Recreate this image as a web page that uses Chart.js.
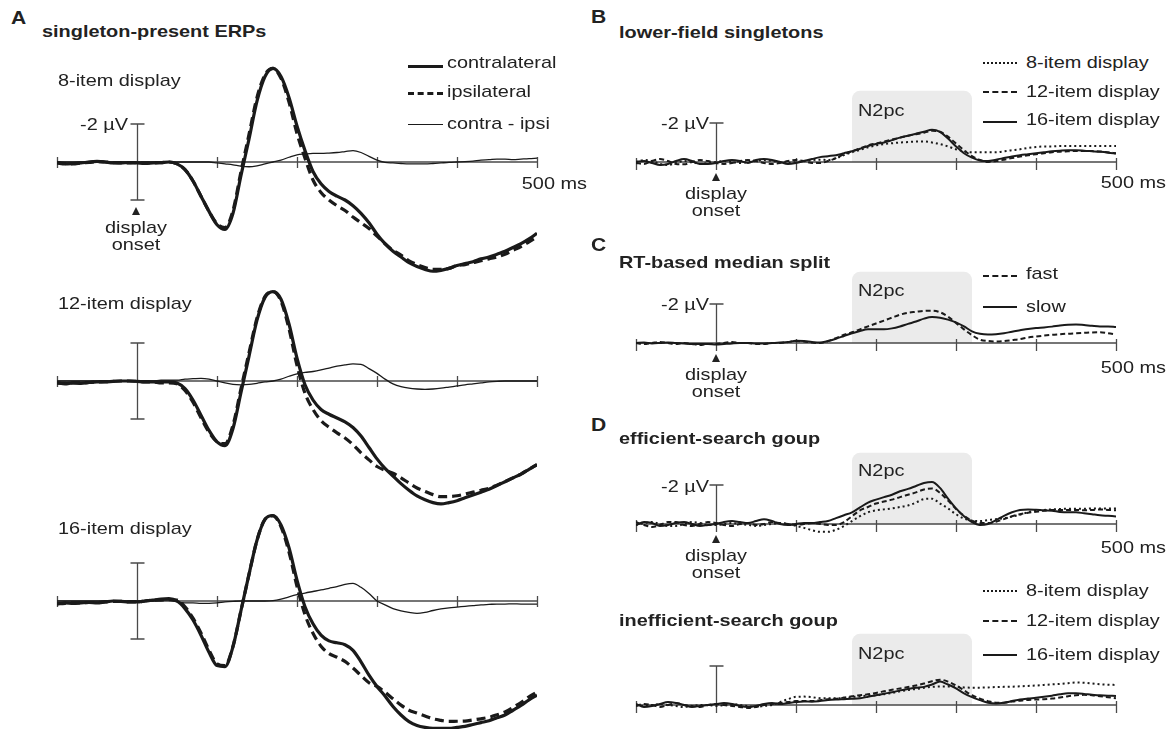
<!DOCTYPE html>
<html>
<head>
<meta charset="utf-8">
<script src="https://cdn.jsdelivr.net/npm/chart.js@4.4.1/dist/chart.umd.min.js"></script>
<style>
  html, body { margin: 0; padding: 0; background: #fff; }
  #fig { position: relative; width: 1169px; height: 729px; overflow: hidden; font-family: "Liberation Sans", Arial, sans-serif; color: #222; }
  #fig canvas { position: absolute; }
  .lbl { position: absolute; white-space: nowrap; font-size: 17px; line-height: 17px; }
  .bold { font-weight: bold; }
  .tri { position: absolute; width: 0; height: 0; border-left: 4px solid transparent; border-right: 4px solid transparent; border-bottom: 8px solid #222; }
</style>
</head>
<body>
<div id="fig"></div>
<script>
// time axis in ms (one sample every 10 ms)
const times = [-100, -90, -80, -70, -60, -50, -40, -30, -20, -10,
  0, 10, 20, 30, 40, 50, 60, 70, 80, 90,
  100, 110, 120, 130, 140, 150, 160, 170, 180, 190,
  200, 210, 220, 230, 240, 250, 260, 270, 280, 290,
  300, 310, 320, 330, 340, 350, 360, 370, 380, 390,
  400, 410, 420, 430, 440, 450, 460, 470, 480, 490, 500];
const tickTimes = [-100, 0, 100, 200, 300, 400, 500];
const n2pcWindow = [170, 320];   // ms
const n2pcTop = -3.65;           // µV, top of the shaded window

// ---- A: singleton-present ERPs (µV, negative up) ----
const a8Contra = [0.05, 0.1, 0.08, 0.05, 0.0, -0.03, 0.0, 0.05, 0.05, 0.03,
  0.05, 0.08, 0.05, 0.03, 0.0, 0.1, 0.4, 1.0, 1.8, 2.6,
  3.3, 3.55, 2.7, 0.7, -1.2, -3.2, -4.5, -4.93, -4.5, -3.4,
  -1.9, -0.6, 0.5, 1.15, 1.55, 1.8, 2.0, 2.3, 2.7, 3.2,
  3.8, 4.3, 4.7, 5.0, 5.3, 5.5, 5.65, 5.75, 5.7, 5.6,
  5.45, 5.35, 5.25, 5.1, 5.0, 4.85, 4.7, 4.5, 4.3, 4.05, 3.75];
const a8Ipsi = [0.03, 0.08, 0.1, 0.05, 0.02, -0.02, 0.0, 0.03, 0.05, 0.05,
  0.03, 0.05, 0.05, 0.03, 0.0, 0.1, 0.4, 1.0, 1.8, 2.6,
  3.25, 3.45, 2.55, 0.5, -1.45, -3.4, -4.6, -4.93, -4.4, -3.15,
  -1.5, -0.2, 0.95, 1.6, 2.0, 2.3, 2.55, 2.9, 3.2, 3.5,
  3.9, 4.3, 4.65, 4.9, 5.2, 5.4, 5.55, 5.65, 5.65, 5.6,
  5.45, 5.4, 5.3, 5.2, 5.1, 5.0, 4.85, 4.65, 4.45, 4.2, 3.95];
const a8Diff = [0, 0, 0, 0, 0, 0, 0, 0, 0, 0,
  0, 0, 0, 0, 0, 0, 0, 0, 0, 0,
  0.05, 0.1, 0.15, 0.22, 0.25, 0.2, 0.1, 0.0, -0.1, -0.25,
  -0.38, -0.42, -0.45, -0.45, -0.47, -0.5, -0.55, -0.6, -0.5, -0.3,
  -0.1, 0.02, 0.05, 0.08, 0.1, 0.1, 0.1, 0.08, 0.05, 0.02,
  0.0, -0.02, -0.05, -0.1, -0.12, -0.15, -0.15, -0.12, -0.15, -0.18, -0.2];

const a12Contra = [0.1, 0.15, 0.1, 0.12, 0.08, 0.05, 0.05, 0.02, 0.0, 0.0,
  0.02, 0.05, 0.05, 0.05, 0.05, 0.1, 0.4, 1.0, 1.8, 2.6,
  3.2, 3.4, 2.5, 0.6, -1.3, -3.2, -4.4, -4.7, -4.3, -3.0,
  -1.2, 0.2, 1.0, 1.5, 1.75, 1.95, 2.15, 2.45, 2.9, 3.5,
  4.1, 4.6, 5.0, 5.4, 5.75, 6.05, 6.25, 6.4, 6.47, 6.4,
  6.3, 6.15, 6.0, 5.85, 5.7, 5.5, 5.3, 5.1, 4.9, 4.65, 4.4];
const a12Ipsi = [0.1, 0.13, 0.1, 0.1, 0.08, 0.05, 0.04, 0.02, 0.0, 0.0,
  0.02, 0.05, 0.05, 0.1, 0.1, 0.15, 0.5, 1.12, 1.94, 2.7,
  3.2, 3.3, 2.32, 0.4, -1.48, -3.32, -4.45, -4.7, -4.2, -2.75,
  -0.82, 0.65, 1.5, 2.08, 2.43, 2.73, 3.0, 3.35, 3.78, 4.15,
  4.5, 4.7, 4.85, 5.1, 5.37, 5.63, 5.81, 5.98, 6.09, 6.08,
  6.04, 5.95, 5.85, 5.75, 5.65, 5.48, 5.3, 5.1, 4.9, 4.65, 4.4];
const a12Diff = [0, 0, 0, 0, 0, 0, 0, 0, 0, 0,
  0, 0, 0, -0.05, -0.05, -0.05, -0.1, -0.12, -0.14, -0.1,
  0.0, 0.1, 0.18, 0.2, 0.18, 0.12, 0.05, 0.0, -0.1, -0.25,
  -0.38, -0.45, -0.5, -0.58, -0.68, -0.78, -0.85, -0.9, -0.88, -0.65,
  -0.4, -0.1, 0.15, 0.3, 0.38, 0.42, 0.44, 0.42, 0.38, 0.32,
  0.26, 0.2, 0.15, 0.1, 0.05, 0.02, 0.0, 0.0, 0.0, 0.0, 0.0];

const a16Contra = [0.15, 0.1, 0.12, 0.1, 0.08, 0.1, 0.05, 0.0, 0.02, 0.05,
  0.05, 0.0, -0.05, -0.1, -0.12, 0.0, 0.4, 1.0, 1.8, 2.7,
  3.4, 3.45, 2.4, 0.5, -1.4, -3.2, -4.3, -4.5, -4.0, -2.8,
  -1.1, 0.3, 1.2, 1.8, 2.1, 2.2, 2.3, 2.6, 3.2, 3.9,
  4.5, 5.0, 5.55, 6.0, 6.35, 6.55, 6.65, 6.7, 6.7, 6.7,
  6.65, 6.6, 6.5, 6.4, 6.3, 6.15, 6.0, 5.75, 5.5, 5.2, 4.95];
const a16Ipsi = [0.15, 0.12, 0.1, 0.1, 0.08, 0.08, 0.05, 0.02, 0.02, 0.05,
  0.05, 0.0, -0.05, -0.05, -0.07, -0.05, 0.3, 0.9, 1.68, 2.58,
  3.3, 3.4, 2.38, 0.5, -1.4, -3.2, -4.3, -4.48, -3.9, -2.58,
  -0.77, 0.72, 1.7, 2.38, 2.77, 2.96, 3.18, 3.53, 3.92, 4.3,
  4.5, 4.8, 5.15, 5.48, 5.75, 5.9, 6.05, 6.2, 6.28, 6.34,
  6.33, 6.32, 6.26, 6.2, 6.12, 5.99, 5.84, 5.6, 5.34, 5.04, 4.79];
const a16Diff = [0, 0, 0, 0, 0, 0, 0, 0, 0, 0,
  0, 0, 0, -0.05, -0.05, 0.05, 0.1, 0.1, 0.12, 0.12,
  0.1, 0.05, 0.02, 0.0, 0.0, 0.0, 0.0, -0.02, -0.1, -0.22,
  -0.33, -0.42, -0.5, -0.58, -0.67, -0.76, -0.88, -0.93, -0.72, -0.4,
  0.0, 0.2, 0.4, 0.52, 0.6, 0.65, 0.6, 0.5, 0.42, 0.36,
  0.32, 0.28, 0.24, 0.2, 0.18, 0.16, 0.16, 0.15, 0.16, 0.16, 0.16];

// ---- B: lower-field singletons (contra - ipsi, µV) ----
const b8 = [0.0, -0.1, -0.05, 0.1, 0.15, 0.05, -0.05, 0.0, 0.1, 0.05,
  0.0, -0.05, 0.0, 0.05, 0.0, -0.05, -0.1, -0.05, 0.0, 0.05,
  0.0, -0.05, -0.1, -0.12, -0.1, -0.2, -0.35, -0.5, -0.62, -0.75,
  -0.85, -0.92, -0.96, -1.0, -1.02, -1.05, -1.05, -1.0, -0.92, -0.8,
  -0.65, -0.55, -0.5, -0.5, -0.5, -0.5, -0.55, -0.6, -0.65, -0.72,
  -0.77, -0.8, -0.8, -0.82, -0.82, -0.82, -0.82, -0.82, -0.82, -0.82, -0.82];
const b12 = [0.05, 0.1, -0.05, -0.15, -0.05, 0.1, 0.12, 0.0, -0.1, -0.05,
  0.05, 0.1, 0.05, -0.05, -0.1, -0.05, 0.05, 0.1, 0.05, -0.05,
  -0.1, -0.05, 0.05, 0.05, -0.05, -0.2, -0.4, -0.55, -0.7, -0.85,
  -0.95, -1.05, -1.15, -1.25, -1.35, -1.42, -1.5, -1.6, -1.55, -1.3,
  -0.95, -0.6, -0.3, -0.1, 0.0, -0.05, -0.12, -0.2, -0.28, -0.35,
  -0.4, -0.45, -0.5, -0.53, -0.55, -0.57, -0.57, -0.56, -0.54, -0.5, -0.45];
const b16 = [0.0, -0.05, 0.05, 0.15, 0.1, -0.05, -0.15, -0.05, 0.1, 0.1,
  0.05, -0.05, -0.1, -0.05, 0.05, -0.1, -0.15, -0.1, 0.0, 0.1,
  0.05, -0.05, -0.15, -0.25, -0.3, -0.35, -0.45, -0.55, -0.68, -0.82,
  -0.92, -1.0, -1.12, -1.25, -1.35, -1.45, -1.55, -1.66, -1.55, -1.2,
  -0.8, -0.45, -0.22, -0.08, -0.05, -0.12, -0.2, -0.28, -0.35, -0.4,
  -0.45, -0.5, -0.55, -0.58, -0.6, -0.6, -0.58, -0.55, -0.52, -0.48, -0.43];

// ---- C: RT-based median split ----
const cFast = [0.0, 0.05, 0.0, -0.05, 0.0, 0.05, 0.0, 0.05, 0.1, 0.05,
  0.05, 0.0, -0.05, 0.0, 0.0, 0.05, 0.05, 0.0, 0.0, -0.05,
  -0.1, -0.08, -0.02, 0.0, -0.1, -0.25, -0.42, -0.55, -0.7, -0.85,
  -1.0, -1.15, -1.3, -1.45, -1.55, -1.6, -1.65, -1.66, -1.58, -1.35,
  -1.03, -0.7, -0.4, -0.17, -0.1, -0.08, -0.1, -0.15, -0.2, -0.28,
  -0.33, -0.38, -0.42, -0.45, -0.48, -0.5, -0.52, -0.54, -0.55, -0.5, -0.43];
const cSlow = [0.0, -0.02, 0.02, 0.0, -0.03, 0.0, 0.02, 0.05, 0.05, 0.05,
  0.08, 0.05, 0.02, 0.0, 0.0, 0.02, 0.02, 0.0, -0.02, -0.05,
  -0.12, -0.1, -0.05, -0.02, -0.1, -0.22, -0.36, -0.5, -0.62, -0.7,
  -0.7, -0.7, -0.75, -0.85, -0.98, -1.1, -1.25, -1.33, -1.3, -1.2,
  -1.06, -0.85, -0.6, -0.47, -0.43, -0.45, -0.5, -0.58, -0.65, -0.72,
  -0.77, -0.8, -0.84, -0.9, -0.94, -0.95, -0.92, -0.88, -0.85, -0.85, -0.82];

// ---- D: efficient / inefficient search groups ----
const effic8 = [0.05, -0.05, -0.1, 0.0, 0.1, 0.1, 0.0, -0.1, -0.05, 0.05,
  0.05, 0.0, -0.05, 0.0, 0.05, 0.1, 0.05, 0.0, -0.05, 0.0,
  0.1, 0.2, 0.32, 0.4, 0.4, 0.3, 0.1, -0.15, -0.4, -0.6,
  -0.7, -0.75, -0.8, -0.87, -0.95, -1.1, -1.28, -1.3, -1.05, -0.8,
  -0.5, -0.28, -0.18, -0.15, -0.2, -0.25, -0.3, -0.38, -0.48, -0.6,
  -0.7, -0.72, -0.75, -0.77, -0.78, -0.78, -0.78, -0.8, -0.8, -0.8, -0.8];
const effic12 = [-0.1, 0.05, 0.15, 0.05, -0.1, -0.1, 0.05, 0.1, 0.0, -0.1,
  -0.05, 0.05, 0.1, 0.0, -0.05, 0.05, 0.0, -0.1, -0.05, 0.0,
  0.05, 0.0, -0.05, 0.0, 0.05, 0.05, -0.1, -0.4, -0.7, -0.87,
  -1.05, -1.15, -1.25, -1.38, -1.5, -1.62, -1.77, -1.82, -1.6, -1.2,
  -0.77, -0.42, -0.17, -0.05, -0.05, -0.12, -0.25, -0.4, -0.5, -0.58,
  -0.63, -0.68, -0.72, -0.72, -0.72, -0.72, -0.7, -0.72, -0.75, -0.72, -0.7];
const effic16 = [0.05, -0.1, -0.05, 0.1, 0.05, -0.05, -0.1, 0.0, 0.1, 0.05,
  0.0, -0.1, -0.15, -0.1, -0.05, -0.15, -0.25, -0.15, 0.0, 0.05,
  0.0, -0.05, -0.05, -0.1, -0.15, -0.3, -0.45, -0.6, -0.85, -1.1,
  -1.25, -1.38, -1.5, -1.68, -1.8, -1.95, -2.1, -2.15, -1.85, -1.3,
  -0.8, -0.4, -0.1, 0.05, 0.0, -0.2, -0.42, -0.6, -0.72, -0.75,
  -0.73, -0.7, -0.68, -0.62, -0.6, -0.6, -0.55, -0.5, -0.45, -0.42, -0.39];
const ineff8 = [0.0, 0.05, 0.0, -0.05, 0.0, 0.05, 0.1, 0.05, 0.0, 0.0,
  0.05, 0.0, -0.05, 0.0, 0.05, 0.1, 0.05, 0.0, -0.15, -0.3,
  -0.42, -0.43, -0.4, -0.35, -0.34, -0.34, -0.35, -0.4, -0.45, -0.48,
  -0.5, -0.55, -0.62, -0.7, -0.77, -0.82, -0.88, -0.93, -0.95, -0.95,
  -0.94, -0.9, -0.89, -0.89, -0.9, -0.92, -0.93, -0.94, -0.96, -0.98,
  -1.0, -1.03, -1.06, -1.08, -1.12, -1.15, -1.14, -1.1, -1.06, -1.04, -1.03];
const ineff12 = [0.05, -0.05, 0.0, 0.1, 0.0, -0.1, 0.0, 0.05, 0.1, 0.0,
  -0.05, 0.0, 0.05, 0.1, 0.15, 0.1, 0.0, -0.05, -0.1, -0.15,
  -0.2, -0.2, -0.2, -0.25, -0.3, -0.32, -0.38, -0.45, -0.5, -0.55,
  -0.62, -0.7, -0.78, -0.85, -0.92, -1.0, -1.1, -1.22, -1.3, -1.2,
  -1.0, -0.75, -0.5, -0.33, -0.2, -0.12, -0.12, -0.18, -0.22, -0.26,
  -0.28, -0.3, -0.33, -0.38, -0.45, -0.5, -0.52, -0.5, -0.45, -0.4, -0.34];
const ineff16 = [-0.05, 0.1, 0.05, -0.05, -0.15, -0.1, 0.0, 0.1, 0.05, 0.0,
  -0.05, -0.1, -0.05, 0.05, 0.1, 0.05, -0.05, -0.1, -0.05, -0.1,
  -0.15, -0.18, -0.17, -0.2, -0.25, -0.28, -0.3, -0.32, -0.35, -0.42,
  -0.5, -0.58, -0.65, -0.75, -0.82, -0.88, -0.93, -1.05, -1.2, -1.05,
  -0.85, -0.6, -0.4, -0.25, -0.12, -0.08, -0.12, -0.2, -0.28, -0.33,
  -0.37, -0.42, -0.48, -0.55, -0.6, -0.6, -0.57, -0.52, -0.5, -0.48, -0.46];

const fig = document.getElementById('fig');
const INK = '#1a1a1a';
const AXIS = '#4a4a4a';

// axes, tick marks, µV scale bar and N2pc window, all in data coordinates
const erpAxes = {
  id: 'erpAxes',
  beforeDatasetsDraw(chart, args, opts) {
    const { ctx, scales: { x, y } } = chart;
    const y0 = y.getPixelForValue(0);
    ctx.save();
    if (opts.n2pc) {
      const l = x.getPixelForValue(n2pcWindow[0]);
      const r = x.getPixelForValue(n2pcWindow[1]);
      const t = y.getPixelForValue(n2pcTop);
      ctx.fillStyle = '#ebebeb';
      ctx.beginPath();
      ctx.roundRect(l, t, r - l, y0 - t, [8, 8, 0, 0]);
      ctx.fill();
    }
    ctx.strokeStyle = AXIS;
    ctx.lineWidth = 1.3;
    ctx.beginPath();
    ctx.moveTo(x.getPixelForValue(tickTimes[0]), y0);
    ctx.lineTo(x.getPixelForValue(tickTimes[tickTimes.length - 1]), y0);
    tickTimes.forEach(t => {
      const px = Math.round(x.getPixelForValue(t)) + 0.5;
      ctx.moveTo(px, y0 - opts.tickUp);
      ctx.lineTo(px, y0 + opts.tickDown);
    });
    // scale bar at display onset
    const xb = Math.round(x.getPixelForValue(0)) + 0.5;
    const top = y.getPixelForValue(-2);
    const bot = opts.fullBar ? y.getPixelForValue(2) : y0;
    ctx.moveTo(xb, top);
    ctx.lineTo(xb, bot);
    ctx.moveTo(xb - 7, top);
    ctx.lineTo(xb + 7, top);
    if (opts.fullBar) {
      ctx.moveTo(xb - 7, bot);
      ctx.lineTo(xb + 7, bot);
    }
    ctx.stroke();
    ctx.restore();
  }
};

function series(values, width, dash) {
  return {
    data: times.map((t, i) => ({ x: t, y: values[i] })),
    borderColor: INK,
    borderWidth: width,
    borderDash: dash || [],
    borderCapStyle: 'butt',
    pointRadius: 0,
    cubicInterpolationMode: 'monotone',
    fill: false
  };
}

// one small chart per ERP plot; plot spans -100..500 ms between left and left+480
function erpChart(left, top, height, baseline, pxPerUV, datasets, axisOpts) {
  const pad = 12;
  const c = document.createElement('canvas');
  c.width = 480 + 2 * pad;
  c.height = height;
  c.style.left = (left - pad) + 'px';
  c.style.top = top + 'px';
  fig.appendChild(c);
  return new Chart(c.getContext('2d'), {
    type: 'line',
    data: { datasets: datasets },
    options: {
      responsive: false,
      animation: false,
      events: [],
      layout: { padding: { left: pad, right: pad, top: 0, bottom: 0 } },
      scales: {
        x: { type: 'linear', min: -100, max: 500, display: false },
        y: {
          type: 'linear', reverse: true, display: false,
          min: -(baseline - top) / pxPerUV,
          max: (top + height - baseline) / pxPerUV
        }
      },
      plugins: {
        legend: { display: false },
        tooltip: { enabled: false },
        erpAxes: axisOpts
      }
    },
    plugins: [erpAxes]
  });
}

const thick = 3.2, thin = 1.3, mid = 2;
const dashA = [9, 5], dashB = [5, 3], dotB = [2, 3];

const axA = { fullBar: true, n2pc: false, tickUp: 5, tickDown: 6 };
const axR = { fullBar: false, n2pc: true, tickUp: 4, tickDown: 8 };

erpChart(57, 50, 240, 162, 19, [series(a8Diff, thin), series(a8Ipsi, thick, dashA), series(a8Contra, thick)], axA);
erpChart(57, 275, 250, 381, 19, [series(a12Diff, thin), series(a12Ipsi, thick, dashA), series(a12Contra, thick)], axA);
erpChart(57, 495, 234, 601, 19, [series(a16Diff, thin), series(a16Ipsi, thick, dashA), series(a16Contra, thick)], axA);

erpChart(636, 80, 120, 162, 19.5, [series(b8, mid, dotB), series(b12, mid, dashB), series(b16, mid)], axR);
erpChart(636, 260, 120, 343, 19.5, [series(cFast, mid, dashB), series(cSlow, mid)], axR);
erpChart(636, 440, 120, 524, 19.5, [series(effic8, mid, dotB), series(effic12, mid, dashB), series(effic16, mid)], axR);
erpChart(636, 620, 109, 705, 19.5, [series(ineff8, mid, dotB), series(ineff12, mid, dashB), series(ineff16, mid)], axR);

// ---- text ----
const SX = 1.17;
function label(text, x, y, opts) {
  opts = opts || {};
  const d = document.createElement('div');
  d.className = 'lbl' + (opts.bold ? ' bold' : '');
  d.textContent = text;
  const size = opts.size || 17;
  d.style.fontSize = size + 'px';
  d.style.lineHeight = size + 'px';
  d.style.left = x + 'px';
  d.style.top = (y - size / 2) + 'px';
  const align = opts.align || 'left';
  if (align === 'right') {
    d.style.transformOrigin = 'right center';
    d.style.transform = 'translateX(-100%) scaleX(' + SX + ')';
  } else if (align === 'center') {
    d.style.transformOrigin = 'center center';
    d.style.transform = 'translateX(-50%) scaleX(' + SX + ')';
  } else {
    d.style.transformOrigin = 'left center';
    d.style.transform = 'scaleX(' + SX + ')';
  }
  fig.appendChild(d);
}

function legendLine(x1, x2, y, width, dash) {
  const d = document.createElement('div');
  d.style.position = 'absolute';
  d.style.left = x1 + 'px';
  d.style.width = (x2 - x1) + 'px';
  d.style.top = (y - width / 2) + 'px';
  d.style.height = '0px';
  d.style.borderTop = width + 'px ' + dash + ' ' + INK;
  fig.appendChild(d);
}

function onsetMarker(x, yTri) {
  const t = document.createElement('div');
  t.className = 'tri';
  t.style.left = (x - 4) + 'px';
  t.style.top = (yTri - 4) + 'px';
  fig.appendChild(t);
  label('display', x, yTri + 16, { align: 'center' });
  label('onset', x, yTri + 33, { align: 'center' });
}

// panel A
label('A', 11, 18, { bold: true, size: 18 });
label('singleton-present ERPs', 42, 31, { bold: true });
label('8-item display', 58, 80);
label('12-item display', 58, 303);
label('16-item display', 58, 528);
label('-2 \u00B5V', 128, 124, { align: 'right' });
label('500 ms', 587, 183, { align: 'right' });
onsetMarker(136, 211);
legendLine(408, 443, 67, 3.5, 'solid');
legendLine(408, 443, 94, 3.5, 'dashed');
legendLine(408, 443, 125, 1.3, 'solid');
label('contralateral', 447, 62);
label('ipsilateral', 447, 91);
label('contra - ipsi', 447, 123);

// panel B
label('B', 591, 17, { bold: true, size: 18 });
label('lower-field singletons', 619, 32, { bold: true });
label('N2pc', 858, 110);
label('-2 \u00B5V', 709, 123, { align: 'right' });
label('500 ms', 1166, 182, { align: 'right' });
onsetMarker(716, 177);
legendLine(983, 1017, 63, 2, 'dotted');
legendLine(983, 1017, 92, 2, 'dashed');
legendLine(983, 1017, 122, 2, 'solid');
label('8-item display', 1026, 62);
label('12-item display', 1026, 91);
label('16-item display', 1026, 119);

// panel C
label('C', 591, 245, { bold: true, size: 18 });
label('RT-based median split', 619, 262, { bold: true });
label('N2pc', 858, 290);
label('-2 \u00B5V', 709, 304, { align: 'right' });
label('500 ms', 1166, 367, { align: 'right' });
onsetMarker(716, 358);
legendLine(983, 1017, 276, 2, 'dashed');
legendLine(983, 1017, 307, 2, 'solid');
label('fast', 1026, 273);
label('slow', 1026, 306);

// panel D
label('D', 591, 425, { bold: true, size: 18 });
label('efficient-search goup', 619, 438, { bold: true });
label('N2pc', 858, 470);
label('-2 \u00B5V', 709, 486, { align: 'right' });
label('500 ms', 1166, 547, { align: 'right' });
onsetMarker(716, 539);
label('inefficient-search goup', 619, 620, { bold: true });
label('N2pc', 858, 653);
legendLine(983, 1017, 591, 2, 'dotted');
legendLine(983, 1017, 621, 2, 'dashed');
legendLine(983, 1017, 655, 2, 'solid');
label('8-item display', 1026, 590);
label('12-item display', 1026, 620);
label('16-item display', 1026, 654);
</script>
</body>
</html>
